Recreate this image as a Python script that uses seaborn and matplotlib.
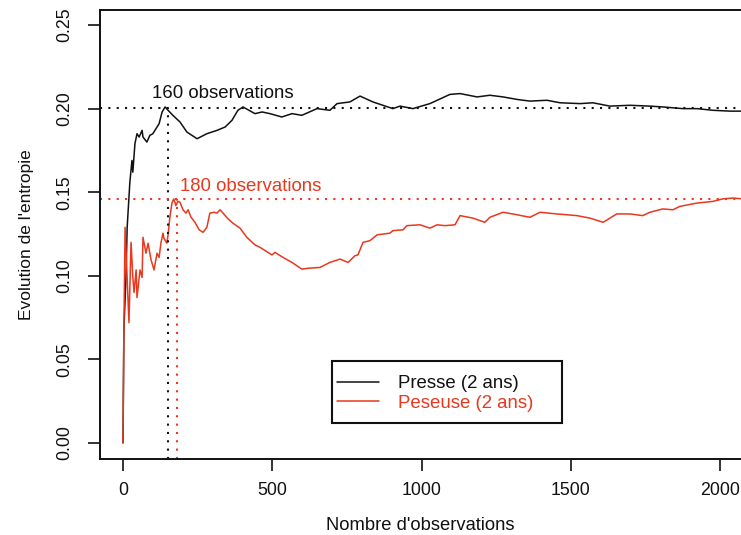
"""Entropy evolution vs number of observations (Presse vs Peseuse, 2 ans)."""

import matplotlib

matplotlib.use("Agg")
import matplotlib.pyplot as plt
import pandas as pd
import seaborn as sns
from matplotlib.lines import Line2D
from matplotlib.patches import Rectangle

BLACK = "#111111"
RED = "#e8381e"

# Presse (2 ans)
presse_n = [0, 3, 10, 14, 17, 23, 30, 33, 40, 47, 54, 64, 67, 80, 90, 100, 114, 121,
            131, 141, 151, 167, 191, 214, 248, 281, 315, 342, 365, 385, 402, 442, 466,
            492, 532, 566, 599, 650, 693, 717, 760, 794, 837, 904, 928, 971, 1028,
            1095, 1129, 1186, 1229, 1273, 1320, 1363, 1420, 1464, 1531, 1574, 1631,
            1698, 1765, 1808, 1875, 1922, 1976, 2033, 2075]
presse_h = [0.000, 0.068, 0.099, 0.129, 0.138, 0.156, 0.169, 0.162, 0.179, 0.185,
            0.183, 0.187, 0.183, 0.180, 0.184, 0.185, 0.189, 0.191, 0.198, 0.201,
            0.199, 0.196, 0.192, 0.186, 0.182, 0.185, 0.187, 0.189, 0.193, 0.199,
            0.201, 0.197, 0.198, 0.197, 0.195, 0.197, 0.196, 0.200, 0.199, 0.203,
            0.204, 0.2075, 0.204, 0.200, 0.2015, 0.200, 0.203, 0.2085, 0.209, 0.207,
            0.208, 0.207, 0.2055, 0.2045, 0.205, 0.2035, 0.203, 0.2035, 0.2015,
            0.202, 0.2015, 0.201, 0.200, 0.200, 0.199, 0.1985, 0.1985]

# Peseuse (2 ans)
peseuse_n = [0, 3, 7, 20, 27, 33, 37, 44, 47, 57, 64, 67, 77, 84, 94, 104, 114, 121,
             127, 134, 137, 147, 151, 157, 164, 170, 177, 184, 191, 201, 211, 218,
             228, 241, 255, 268, 281, 291, 305, 315, 325, 335, 352, 368, 392, 415,
             442, 459, 499, 509, 536, 566, 599, 620, 660, 693, 727, 754, 777, 787,
             804, 827, 851, 894, 904, 938, 951, 995, 1028, 1052, 1078, 1112, 1129,
             1172, 1212, 1229, 1273, 1320, 1363, 1397, 1453, 1520, 1564, 1608, 1631,
             1654, 1698, 1741, 1765, 1808, 1842, 1865, 1922, 1976, 2009, 2043, 2075]
peseuse_h = [0.000, 0.068, 0.129, 0.072, 0.120, 0.099, 0.090, 0.1035, 0.087, 0.1035,
             0.099, 0.123, 0.1135, 0.1195, 0.1095, 0.1035, 0.1135, 0.111, 0.1195,
             0.1255, 0.1225, 0.1195, 0.1245, 0.135, 0.1435, 0.146, 0.142, 0.1445,
             0.144, 0.1395, 0.1375, 0.1395, 0.135, 0.132, 0.1275, 0.126, 0.129,
             0.1375, 0.138, 0.1375, 0.1395, 0.1375, 0.134, 0.1315, 0.1285, 0.123,
             0.1185, 0.117, 0.1125, 0.114, 0.111, 0.108, 0.104, 0.1045, 0.105,
             0.108, 0.110, 0.108, 0.112, 0.1125, 0.120, 0.121, 0.1245, 0.1255,
             0.127, 0.1275, 0.130, 0.1305, 0.1285, 0.1305, 0.130, 0.1305, 0.136,
             0.1345, 0.132, 0.135, 0.138, 0.1365, 0.135, 0.138, 0.137, 0.136, 0.1345,
             0.132, 0.1345, 0.137, 0.137, 0.136, 0.138, 0.140, 0.1395, 0.1415,
             0.1435, 0.1445, 0.146, 0.1465, 0.146]

SERIES = ["Presse (2 ans)", "Peseuse (2 ans)"]
# stabilisation points: (n, entropy) and their labels
mark_n = [150, 180]
mark_h = [0.2004, 0.1457]
mark_labels = ["160 observations", "180 observations"]

X_TICKS = [0, 500, 1000, 1500, 2000]
Y_TICKS = [0.00, 0.05, 0.10, 0.15, 0.20, 0.25]


def main() -> None:
    sns.set_theme(style="ticks")
    plt.rcParams["font.family"] = ["Liberation Sans", "DejaVu Sans"]

    data = pd.concat(
        [
            pd.DataFrame({"n": presse_n, "h": presse_h, "serie": SERIES[0]}),
            pd.DataFrame({"n": peseuse_n, "h": peseuse_h, "serie": SERIES[1]}),
        ],
        ignore_index=True,
    )
    palette = {SERIES[0]: BLACK, SERIES[1]: RED}

    fig = plt.figure(figsize=(7.41, 5.35), dpi=100)
    ax = fig.add_axes([100 / 741, 76 / 535, 641 / 741, 449 / 535])

    sns.lineplot(data=data, x="n", y="h", hue="serie", palette=palette,
                 linewidth=1.1, legend=False, sort=False, ax=ax)

    ax.set_xlim(-77, 2070)
    ax.set_ylim(-0.0096, 0.259)
    ybot = ax.get_ylim()[0]

    dots = (0, (1, 3))
    for n, h, lab, col, dx, dy in zip(mark_n, mark_h, mark_labels, [BLACK, RED],
                                      [-53, 11], [0.0085, 0.0078]):
        ax.axhline(h, color=col, linestyle=dots, linewidth=1.5)
        ax.vlines(n, ybot, h, color=col, linestyles=dots, linewidth=1.5)
        ax.text(n + dx, h + dy, lab, color=col, fontsize=13.4, ha="left", va="center")

    ax.set_xticks(X_TICKS)
    ax.set_yticks(Y_TICKS)
    ax.set_yticklabels([f"{v:.2f}" for v in Y_TICKS], rotation=90, va="center")
    ax.tick_params(axis="both", direction="out", length=8.5, width=1.2,
                   labelsize=12.8, color=BLACK, labelcolor=BLACK)
    ax.tick_params(axis="x", pad=8)
    ax.tick_params(axis="y", pad=11)

    for side in ["left", "bottom", "top"]:
        ax.spines[side].set_linewidth(1.4)
        ax.spines[side].set_color(BLACK)
    ax.spines["right"].set_visible(False)

    ax.set_xlabel("Nombre d'observations", fontsize=13.2, labelpad=13, color=BLACK)
    ax.set_ylabel("Evolution de l'entropie", fontsize=12.5, labelpad=16, color=BLACK)

    handles = [Line2D([], [], color=palette[s], linewidth=1.1) for s in SERIES]
    leg = ax.legend(handles, SERIES, loc="upper left", bbox_to_anchor=(0.3697, 0.187),
                    frameon=False, fontsize=13.4, borderpad=0, borderaxespad=0,
                    handlelength=2.25, handletextpad=1.05, labelspacing=0.15)
    for txt, s in zip(leg.get_texts(), SERIES):
        txt.set_color(palette[s])
    ax.add_patch(Rectangle((0.3619, 0.0802), 0.3588, 0.138, transform=ax.transAxes,
                           fill=True, facecolor="white", edgecolor=BLACK,
                           linewidth=1.5, zorder=4))
    leg.set_zorder(5)

    fig.savefig("out.png", dpi=100)
    plt.close(fig)


if __name__ == "__main__":
    main()
